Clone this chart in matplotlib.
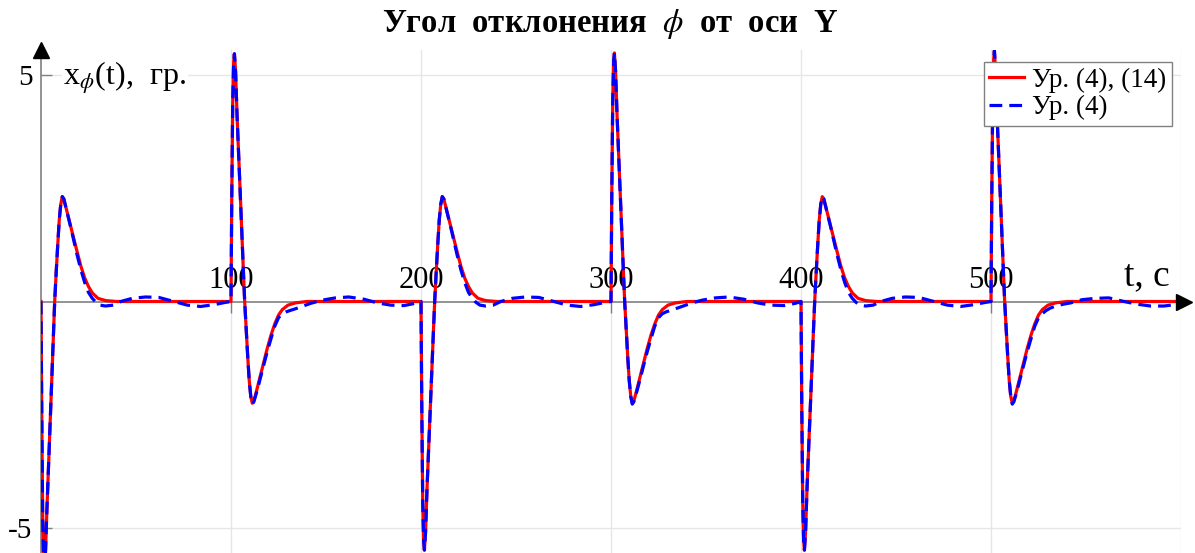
import numpy as np
import matplotlib
matplotlib.use("Agg")
import matplotlib.pyplot as plt

plt.rcParams["font.family"] = ["Liberation Serif", "DejaVu Serif"]
plt.rcParams["mathtext.fontset"] = "stix"

# start of each control pulse, s
pulse_start = [0, 100, 200, 300, 400, 500]

# time inside a pulse for the full model, s
red_dt = [0, 0.4, 0.9, 1.4, 1.8, 2.4, 3.2, 4.0, 4.8, 5.6, 6.4, 7.2, 8.0, 8.8,
          9.6, 10.4, 11.2, 12.0, 13.0, 14.5, 16.0, 17.5, 19.0, 21.0, 23.0,
          25.0, 27.0, 30.0, 34.0, 40.0]

# angle, deg - eq. (4), (14)
red_x0 = [0, -2.5, -4.8, -5.8, -6.0, -5.5, -4.5, -3.6, -2.7, -1.8, -0.9, 0.0,
          0.65, 1.25, 1.8, 2.15, 2.32, 2.27, 2.1, 1.85, 1.6, 1.35, 1.1, 0.78,
          0.52, 0.33, 0.19, 0.07, 0.02, 0.0]
red_x100 = [0, 2.3, 4.4, 5.3, 5.48, 5.1, 4.1, 3.3, 2.45, 1.6, 0.8, 0.0,
            -0.63, -1.22, -1.75, -2.1, -2.25, -2.2, -2.05, -1.8, -1.55, -1.3,
            -1.05, -0.75, -0.5, -0.3, -0.18, -0.08, -0.03, 0.0]
red_x200 = [0, -2.3, -4.4, -5.3, -5.5, -5.1, -4.1, -3.3, -2.45, -1.6, -0.8, 0.0,
            0.65, 1.25, 1.8, 2.15, 2.32, 2.27, 2.1, 1.85, 1.6, 1.35, 1.1, 0.78,
            0.52, 0.33, 0.19, 0.07, 0.02, 0.0]
red_x300 = [0, 2.3, 4.4, 5.32, 5.5, 5.1, 4.1, 3.3, 2.45, 1.6, 0.8, 0.0,
            -0.63, -1.22, -1.75, -2.1, -2.25, -2.2, -2.05, -1.8, -1.55, -1.3,
            -1.05, -0.75, -0.5, -0.3, -0.18, -0.08, -0.03, 0.0]
red_x400 = [0, -2.3, -4.4, -5.3, -5.5, -5.1, -4.1, -3.3, -2.45, -1.6, -0.8, 0.0,
            0.65, 1.25, 1.8, 2.15, 2.32, 2.27, 2.1, 1.85, 1.6, 1.35, 1.1, 0.78,
            0.52, 0.33, 0.19, 0.07, 0.02, 0.0]
red_x500 = [0, 2.3, 4.4, 5.35, 5.55, 5.1, 4.1, 3.3, 2.45, 1.6, 0.8, 0.0,
            -0.63, -1.22, -1.75, -2.1, -2.25, -2.2, -2.05, -1.8, -1.55, -1.3,
            -1.05, -0.75, -0.5, -0.3, -0.18, -0.08, -0.03, 0.0]

# time inside a pulse for eq. (4) only, s
blue_dt = [0, 0.4, 0.9, 1.4, 1.8, 2.4, 3.2, 4.0, 4.8, 5.6, 6.4, 7.2, 8.0, 8.8,
           9.6, 10.4, 11.2, 12.0, 13.0, 14.5, 16.0, 17.5, 19.0, 21.0, 23.0,
           25.0, 27.0, 29.0, 31.0, 34.0, 38.0, 42.0, 48.0, 55.0, 62.0, 70.0,
           77.0, 84.0, 91.0, 97.0]

blue_x0 = [0, -2.5, -4.8, -5.8, -6.0, -5.5, -4.5, -3.6, -2.7, -1.8, -0.9, 0.0,
           0.65, 1.25, 1.8, 2.15, 2.32, 2.27, 2.1, 1.85, 1.58, 1.3, 1.03, 0.7,
           0.42, 0.2, 0.07, -0.02, -0.08, -0.1, -0.08, 0.0, 0.07, 0.1, 0.09,
           0.0, -0.08, -0.11, -0.07, -0.02]
blue_x100 = [0, 2.3, 4.4, 5.3, 5.48, 5.1, 4.1, 3.3, 2.45, 1.6, 0.8, 0.0,
             -0.63, -1.22, -1.75, -2.1, -2.27, -2.22, -2.08, -1.85, -1.6, -1.36,
             -1.12, -0.83, -0.55, -0.36, -0.27, -0.23, -0.2, -0.16, -0.1, -0.04,
             0.03, 0.08, 0.1, 0.05, -0.03, -0.08, -0.09, -0.04]
blue_x200 = [0, -2.3, -4.4, -5.3, -5.5, -5.1, -4.1, -3.3, -2.45, -1.6, -0.8, 0.0,
             0.65, 1.25, 1.8, 2.15, 2.32, 2.27, 2.1, 1.85, 1.58, 1.3, 1.03, 0.7,
             0.42, 0.2, 0.07, -0.02, -0.08, -0.1, -0.08, 0.0, 0.07, 0.1, 0.09,
             0.0, -0.08, -0.11, -0.07, -0.02]
blue_x300 = [0, 2.3, 4.4, 5.32, 5.5, 5.1, 4.1, 3.3, 2.45, 1.6, 0.8, 0.0,
             -0.63, -1.22, -1.75, -2.1, -2.27, -2.22, -2.08, -1.85, -1.6, -1.36,
             -1.12, -0.83, -0.55, -0.36, -0.27, -0.23, -0.2, -0.16, -0.1, -0.04,
             0.03, 0.08, 0.1, 0.05, -0.03, -0.08, -0.09, -0.04]
blue_x400 = [0, -2.3, -4.4, -5.3, -5.5, -5.1, -4.1, -3.3, -2.45, -1.6, -0.8, 0.0,
             0.65, 1.25, 1.8, 2.15, 2.32, 2.27, 2.1, 1.85, 1.58, 1.3, 1.03, 0.7,
             0.42, 0.2, 0.07, -0.02, -0.08, -0.1, -0.08, 0.0, 0.07, 0.1, 0.09,
             0.0, -0.08, -0.11, -0.07, -0.02]
blue_x500 = [0, 2.3, 4.4, 5.35, 5.55, 5.1, 4.1, 3.3, 2.45, 1.6, 0.8, 0.0,
             -0.63, -1.22, -1.75, -2.1, -2.27, -2.22, -2.08, -1.85, -1.6, -1.36,
             -1.12, -0.83, -0.55, -0.36, -0.27, -0.2, -0.15, -0.1, -0.06, -0.03,
             0.04, 0.07, 0.08, 0.0, -0.06, -0.1, -0.1, -0.07]

t_end = 600
red_end = 0.0
blue_end = -0.06

x_ticks = [100, 200, 300, 400, 500]
x_tick_labels = ["100", "200", "300", "400", "500"]
y_ticks = [-5, 5]
y_tick_labels = ["-5", "5"]

# assemble the full time series
t_red = np.concatenate([s + np.array(red_dt) for s in pulse_start] + [[t_end]])
x_red = np.concatenate([red_x0, red_x100, red_x200, red_x300, red_x400,
                        red_x500, [red_end]])
t_blue = np.concatenate([s + np.array(blue_dt) for s in pulse_start] + [[t_end]])
x_blue = np.concatenate([blue_x0, blue_x100, blue_x200, blue_x300, blue_x400,
                         blue_x500, [blue_end]])

W, H = 1195, 553
fig = plt.figure(figsize=(W / 100, H / 100), dpi=100)
ax = fig.add_axes([41 / W, 0, 1140 / W, 503 / H])

ax.plot(t_red, x_red, color="#ff0000", lw=2.3, zorder=3, label="Ур. (4), (14)")
ax.plot(t_blue, x_blue, color="#0000ff", lw=2.3, ls=(0, (4.0, 2.2)), zorder=3.1,
        label="Ур. (4)")

ax.set_xlim(0, 600)
ax.set_ylim(-5.564, 5.564)

# axes through the origin
for side in ("top", "right"):
    ax.spines[side].set_visible(False)
ax.spines["left"].set_position(("data", 0))
ax.spines["bottom"].set_position(("data", 0))
for side in ("left", "bottom"):
    ax.spines[side].set_color("#808080")
    ax.spines[side].set_linewidth(1.2)
    ax.spines[side].set_zorder(2.5)

ax.set_xticks(x_ticks)
ax.set_xticklabels([])
ax.tick_params(axis="x", direction="out", length=8, color="#808080", width=1)
ax.set_yticks(y_ticks)
ax.set_yticklabels(y_tick_labels)
ax.tick_params(axis="y", direction="in", length=8, color="#808080", width=1,
               labelsize=21, pad=6)

ax.grid(True, color="#e6e6e6", lw=1)
ax.axvline(600, color="#e6e6e6", lw=1, zorder=0.5)
ax.set_axisbelow(True)

for t, lab in zip(x_ticks, x_tick_labels):
    ax.annotate(lab, xy=(t, 0), xytext=(0, 9.7), textcoords="offset points",
                ha="center", va="baseline", fontsize=22, zorder=1)

ax.annotate("t, c", xy=(594, 0), xytext=(0, 12), textcoords="offset points",
            ha="right", va="baseline", fontsize=27, zorder=1)
ax.annotate(r"x$_{\phi}$(t),  гр.", xy=(0, 5), xytext=(16, -7),
            textcoords="offset points", ha="left", va="baseline", fontsize=23,
            zorder=1, bbox=dict(fc="white", ec="none", pad=1))

# arrow heads on the axes
ax.plot([0], [5.564], marker="^", ms=11, color="k", clip_on=False, zorder=5)
ax.plot([601.5], [0], marker=">", ms=11, color="k", clip_on=False, zorder=5)

fig.text(610 / W, 1 - 24 / H, "Угол  отклонения  $\\phi$  от  оси  Y",
         ha="center", va="center", fontsize=23.5, fontweight="bold")

leg = ax.legend(loc="upper right", bbox_to_anchor=(1172 / W, 1 - 62 / H),
                bbox_transform=fig.transFigure, fontsize=19.5, frameon=True,
                fancybox=False, edgecolor="#808080", framealpha=1,
                borderaxespad=0, borderpad=0.2, handlelength=1.3,
                handletextpad=0.3, labelspacing=0.1)
leg.get_frame().set_linewidth(1.0)
leg.set_zorder(6)

fig.savefig("out.png", dpi=100)
